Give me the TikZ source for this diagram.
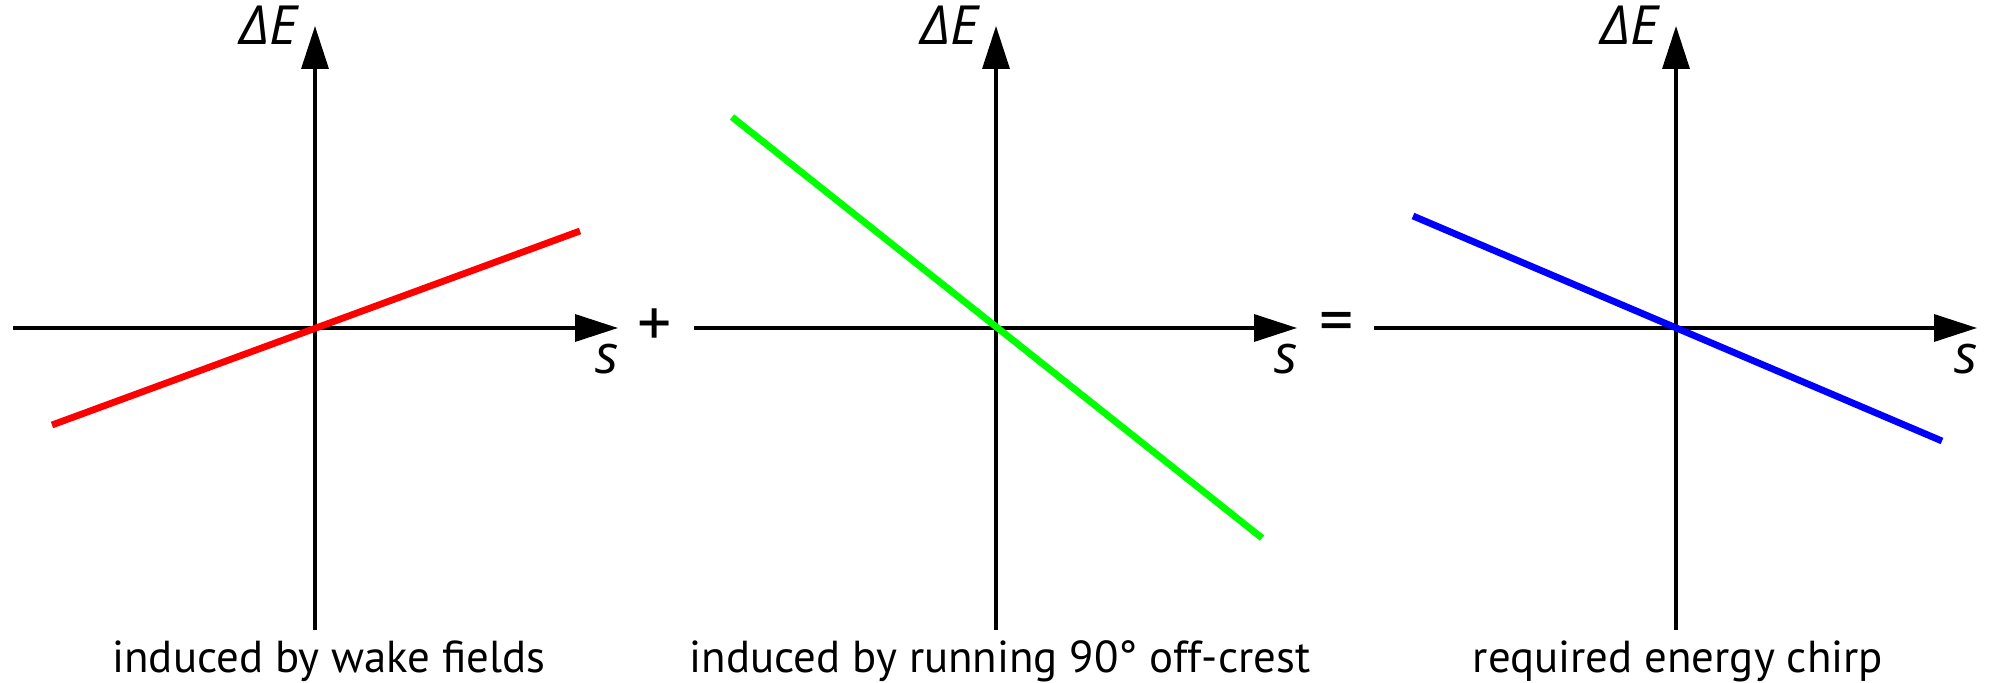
\documentclass[tikz,border=0pt]{standalone}
\usepackage{fontspec}
\setmainfont{PT Sans}
\newfontfamily\labfont{Open Sans}
\usetikzlibrary{arrows.meta}
\begin{document}
\begin{tikzpicture}[x=0.5pt,y=-0.5pt,
  axis/.style={line width=1.7pt,-{Triangle[length=21.5pt,width=13.5pt]}},
  curve/.style={line width=3.4pt},
  caption/.style={inner sep=0pt,anchor=base,font=\fontsize{22.4}{26}\selectfont},
  varlab/.style={inner sep=0pt,font=\labfont\itshape\fontsize{27}{30}\selectfont},
  opsym/.style={inner sep=0pt,font=\fontsize{34}{36}\selectfont}]
\useasboundingbox (0,0) rectangle (1991,683);
% panel 1
\coordinate (h1a) at (13,328);  \coordinate (h1b) at (618,328);
\coordinate (v1a) at (315,630); \coordinate (v1b) at (315,26);
\coordinate (r1) at (52,425);   \coordinate (r2) at (580,231);
\draw[axis] (h1a) -- (h1b);
\draw[axis] (v1a) -- (v1b);
\draw[curve,red] (r1) -- (r2);
\node[varlab,anchor=base east] (e1) at (298,45) {ΔE};
\node[varlab,anchor=base] (s1) at (607,374) {s};
\node[caption] (c1) at (329,672) {induced by wake fields};
\node[opsym] (plus) at (655,328) {+};
% panel 2
\coordinate (h2a) at (694,328);  \coordinate (h2b) at (1297,328);
\coordinate (v2a) at (996,630);  \coordinate (v2b) at (996,26);
\coordinate (g1) at (732,117);   \coordinate (g2) at (1262,538);
\draw[axis] (h2a) -- (h2b);
\draw[axis] (v2a) -- (v2b);
\draw[curve,green] (g1) -- (g2);
\node[varlab,anchor=base east] (e2) at (979,45) {ΔE};
\node[varlab,anchor=base] (s2) at (1286,374) {s};
\node[caption] (c2) at (1000,672) {induced by running 90° off-crest};
\node[opsym] (eq) at (1337,328) {=};
% panel 3
\coordinate (h3a) at (1374,328); \coordinate (h3b) at (1977,328);
\coordinate (v3a) at (1676,630); \coordinate (v3b) at (1676,26);
\coordinate (b1) at (1413,216);  \coordinate (b2) at (1942,441);
\draw[axis] (h3a) -- (h3b);
\draw[axis] (v3a) -- (v3b);
\draw[curve,blue] (b1) -- (b2);
\node[varlab,anchor=base east] (e3) at (1659,45) {ΔE};
\node[varlab,anchor=base] (s3) at (1966,374) {s};
\node[caption] (c3) at (1678,672) {required energy chirp};
\end{tikzpicture}
\end{document}
